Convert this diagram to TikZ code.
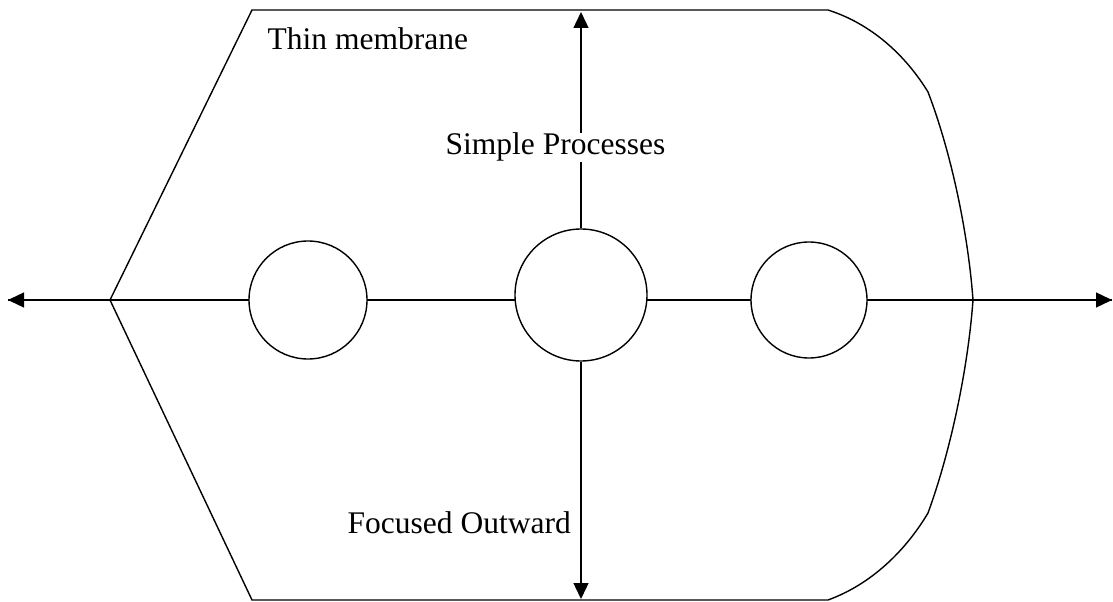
\documentclass[tikz,border=0pt]{standalone}
\usepackage{fontspec}
\setmainfont{Liberation Serif}
\usetikzlibrary{arrows.meta}
\begin{document}
\begin{tikzpicture}[x=1bp,y=-1bp,line width=1.4bp,
  ring/.style={draw,circle,fill=white,inner sep=0pt},
  lbl/.style={inner sep=0pt,font=\fontsize{31.5bp}{38bp}\selectfont},
  tip/.style={-{Triangle[length=16bp,width=15bp]}}]
\useasboundingbox (0,0) rectangle (1113,602);
% outline
\draw (252,10) -- (828,10)
  .. controls (872,24) and (906,56) .. (928,92)
  .. controls (951,152) and (968,232) .. (973,300)
  .. controls (968,368) and (951,450) .. (928,513)
  .. controls (906,550) and (872,584) .. (828,600)
  -- (252,600) -- (110,300) -- cycle;
\coordinate (L) at (8,300);
\coordinate (R) at (1112,300);
\coordinate (T) at (581,12);
\coordinate (B) at (581,599);
\draw[tip] (R) -- (L);
\draw[tip] (L) -- (R);
\node[ring,minimum size=118bp] (c1) at (308,300) {};
\node[ring,minimum size=132bp] (c2) at (581,295) {};
\node[ring,minimum size=116bp] (c3) at (809,300) {};
\draw[tip] (c2.north) -- (T);
\draw[tip] (c2.south) -- (B);
\node[lbl,anchor=base west] (t1) at (267,50) {Thin membrane};
\node[lbl,anchor=base west,fill=white] (t2) at (445,155) {Simple Processes};
\node[lbl,anchor=base west] (t3) at (347,533) {Focused Outward};
\end{tikzpicture}
\end{document}
